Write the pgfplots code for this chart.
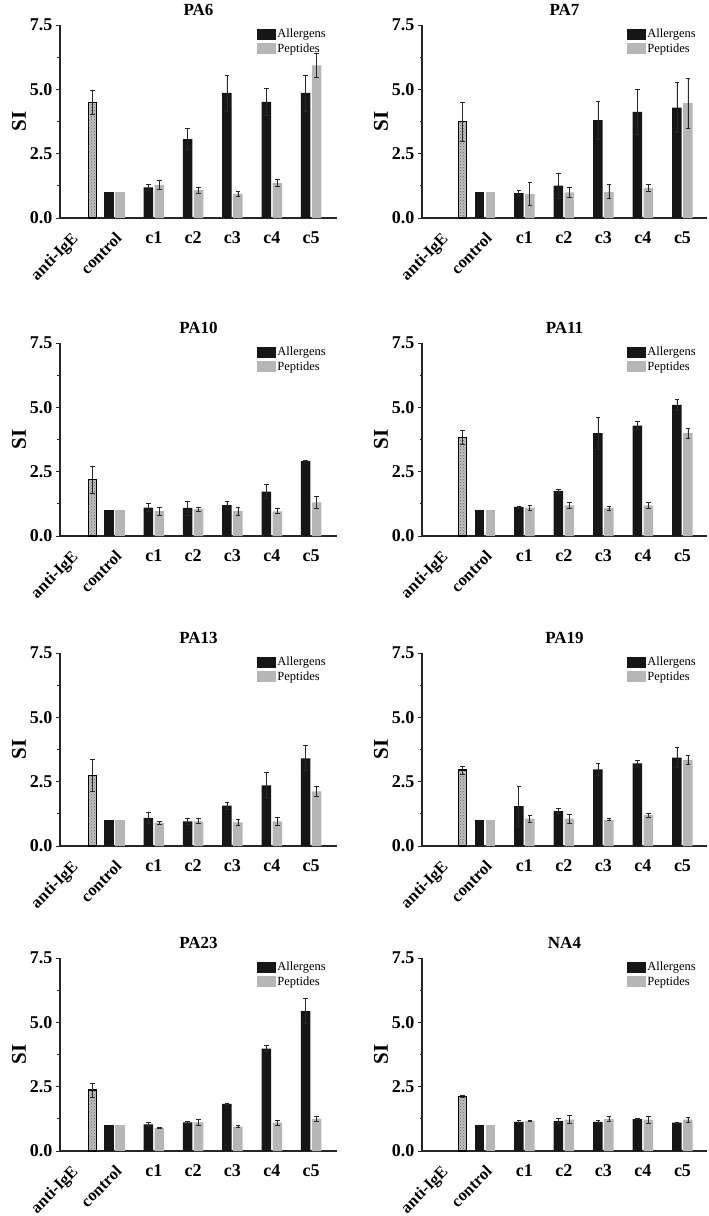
\documentclass[border=0pt]{standalone}
\usepackage{pgfplots}
\pgfplotsset{compat=1.18}
\usepackage{pgfplotstable}
\usepackage{fontspec}
\setmainfont{Liberation Serif}
\usetikzlibrary{patterns}
\definecolor{barblack}{RGB}{22,22,22}
\definecolor{bargrey}{RGB}{182,182,182}
\definecolor{errc}{RGB}{40,40,40}

\pgfplotstableread{
x a ae p pe
2 1.19 0.13 1.29 0.17
3 3.07 0.42 1.08 0.12
4 4.86 0.70 0.94 0.09
5 4.51 0.54 1.36 0.14
6 4.86 0.70 5.93 0.48
}\PAsix
\pgfplotstableread{
x a ae p pe
2 0.97 0.11 0.93 0.45
3 1.26 0.49 1.00 0.20
4 3.80 0.75 1.02 0.27
5 4.12 0.86 1.17 0.13
6 4.29 0.98 4.46 0.98
}\PAseven
\pgfplotstableread{
x a ae p pe
2 1.10 0.16 0.97 0.16
3 1.09 0.27 1.04 0.09
4 1.20 0.13 0.97 0.16
5 1.72 0.27 0.96 0.10
6 2.91 0.03 1.31 0.24
}\PAten
\pgfplotstableread{
x a ae p pe
2 1.13 0.04 1.10 0.09
3 1.75 0.08 1.19 0.13
4 4.00 0.62 1.08 0.07
5 4.29 0.15 1.19 0.11
6 5.10 0.22 4.00 0.19
}\PAeleven
\pgfplotstableread{
x a ae p pe
2 1.09 0.22 0.91 0.06
3 0.96 0.13 0.96 0.10
4 1.57 0.13 0.92 0.10
5 2.36 0.49 0.96 0.17
6 3.41 0.49 2.12 0.21
}\PAthirteen
\pgfplotstableread{
x a ae p pe
2 1.55 0.77 1.06 0.13
3 1.36 0.10 1.06 0.18
4 2.98 0.22 1.02 0.04
5 3.21 0.11 1.20 0.07
6 3.43 0.39 3.34 0.18
}\PAnineteen
\pgfplotstableread{
x a ae p pe
2 1.04 0.07 0.90 0.01
3 1.11 0.04 1.11 0.13
4 1.83 0.01 0.95 0.04
5 3.98 0.12 1.10 0.09
6 5.44 0.49 1.25 0.10
}\PAtwentythree
\pgfplotstableread{
x a ae p pe
2 1.13 0.05 1.17 0.02
3 1.16 0.09 1.22 0.15
4 1.13 0.05 1.24 0.10
5 1.24 0.01 1.22 0.13
6 1.10 0.01 1.22 0.09
}\NAfour

\pgfplotsset{
  errstyle/.style={
    error bars/y dir=both, error bars/y explicit,
    error bars/error bar style={line width=0.8pt, errc},
    error bars/error mark options={rotate=90, mark size=2.3pt, line width=0.8pt, errc}},
  panel/.style={
    scale only axis, height=193pt,
    ybar, bar width=9.5pt,
    ymin=0, ymax=7.5,
    ytick={0,2.5,5,7.5}, minor y tick num=1,
    axis lines=left, axis line style={line width=1.1pt, black!85, -},
    tick align=outside,
    major tick length=4pt, minor tick length=2.5pt,
    ytick style={line width=0.8pt, black!85},
    xtick style={draw=none},
    yticklabel style={font=\bfseries\fontsize{18}{18}\selectfont},
    /pgf/number format/.cd, fixed, fixed zerofill, precision=1, assume math mode=true, /pgfplots/.cd,
    xtick={2,3,4,5,6}, xticklabels={c1,c2,c3,c4,c5},
    xticklabel style={font=\bfseries\fontsize{18}{18}\selectfont, yshift=-6pt},
    extra x ticks={-0.12,1}, extra x tick labels={anti-IgE,control},
    extra x tick style={xtick style={draw=none},
      xticklabel style={font=\bfseries\fontsize{16.5}{16.5}\selectfont, rotate=45, anchor=north east, xshift=1pt, yshift=1pt}},
    title style={font=\bfseries\fontsize{17}{17}\selectfont, yshift=0pt},
    ylabel=SI,
    ylabel style={font=\bfseries\fontsize{21}{21}\selectfont, anchor=center},
    legend style={at={(1,1)}, anchor=north east, xshift=-7pt, draw=none, fill=none,
      font=\fontsize{12.5}{15}\selectfont, row sep=0pt, inner sep=2pt,
      legend cell align=left},
  }
}

% #1 x, #2 y bottom, #3 width, #4 xmin, #5 xmax, #6 title, #7 table, #8 anti-IgE, #9 its error
\newcommand{\panel}[9]{%
\begin{axis}[panel, at={(#1pt,-#2pt)}, anchor=south west, width=#3pt,
  xmin=#4, xmax=#5, title={#6},
  ylabel style={at={(axis description cs:-41pt/#3pt,0.5)}}]
\addplot[forget plot, fill=barblack, draw=none, bar shift=-5.5pt, errstyle]
  table[x=x, y=a, y error=ae]{#7};
\addplot[forget plot, fill=bargrey, draw=none, bar shift=5.5pt, errstyle]
  table[x=x, y=p, y error=pe]{#7};
\addplot[forget plot, fill=barblack, draw=none, bar shift=-5.5pt] coordinates {(1,1)};
\addplot[forget plot, fill=bargrey, draw=none, bar shift=5.5pt] coordinates {(1,1)};
\addplot[forget plot, fill=gray!50, draw=black, line width=1.3pt, bar width=8pt, bar shift=0pt,
  postaction={pattern=crosshatch dots, pattern color=black!60}, errstyle]
  coordinates {(0.43,#8) +- (0,#9)};
\addlegendimage{legend image code/.code={\fill[barblack] (0pt,-4.5pt) rectangle (18pt,5.5pt);}}
\addlegendentry{Allergens}
\addlegendimage{legend image code/.code={\fill[bargrey] (0pt,-4.5pt) rectangle (18pt,5.5pt);}}
\addlegendentry{Peptides}
\end{axis}}

\begin{document}
\begin{tikzpicture}
\useasboundingbox (0pt,0pt) rectangle (709pt,-1216pt);
\panel{60}{218}{277}{-0.39}{6.66}{PA6}{\PAsix}{4.50}{0.47}
\panel{422}{218}{285}{-0.59}{6.62}{PA7}{\PAseven}{3.74}{0.77}
\panel{60}{536}{277}{-0.39}{6.66}{PA10}{\PAten}{2.19}{0.52}
\panel{422}{536}{285}{-0.59}{6.62}{PA11}{\PAeleven}{3.83}{0.27}
\panel{60}{846}{277}{-0.39}{6.66}{PA13}{\PAthirteen}{2.75}{0.63}
\panel{422}{846}{285}{-0.59}{6.62}{PA19}{\PAnineteen}{2.95}{0.16}
\panel{60}{1151}{277}{-0.39}{6.66}{PA23}{\PAtwentythree}{2.37}{0.27}
\panel{422}{1151}{285}{-0.59}{6.62}{NA4}{\NAfour}{2.13}{0.05}
\end{tikzpicture}
\end{document}
